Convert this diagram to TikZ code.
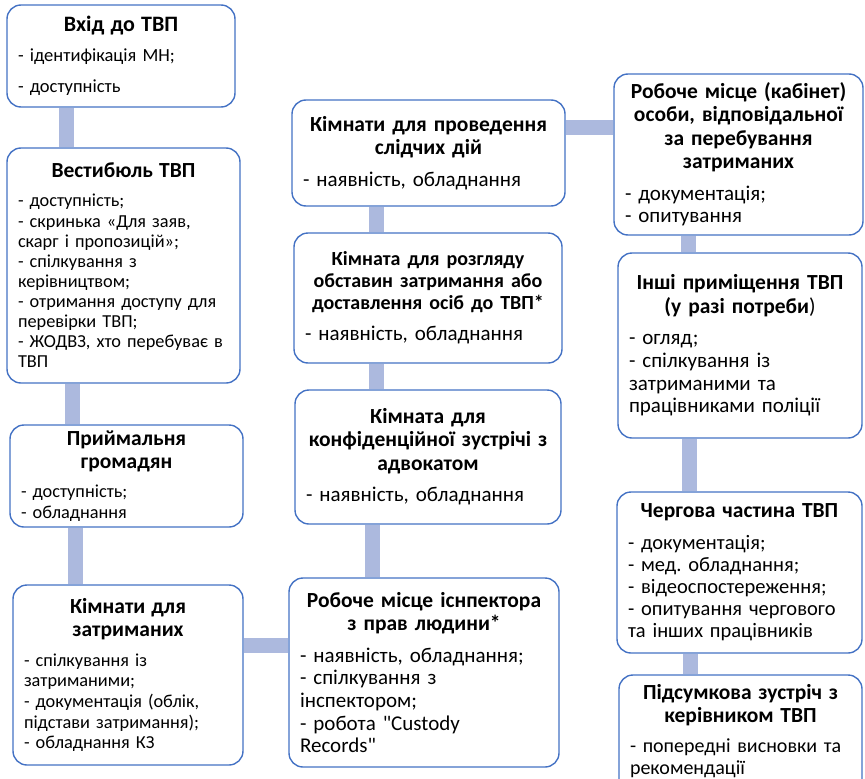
\documentclass[tikz,border=0pt]{standalone}
\usepackage{fontspec}
\setmainfont{Carlito}
\usepackage{tikz}
\usetikzlibrary{backgrounds}

\definecolor{boxblue}{RGB}{68,114,196}
\definecolor{linkblue}{RGB}{172,185,222}

\newcommand\bodysize[2]{\fontsize{#1}{#1}\selectfont\baselineskip=#2\baselineskip\relax}
\newcommand\roomtitle[2][21.5]{{\centering\bfseries\fontsize{#1}{#1}\selectfont\baselineskip=1.08\baselineskip\relax #2\par}\vspace{9pt}}

\tikzset{
	room/.style={draw=boxblue,line width=1.4pt,fill=white,rounded corners=14pt,
		inner xsep=11pt,inner ysep=4pt,align=left},
	link/.style={draw=linkblue,line width=15pt}
}

\begin{document}
\frenchspacing
\begin{tikzpicture}
	\useasboundingbox (0,0) rectangle (865pt,-779pt);

	\node [room,text width=206pt,minimum height=102pt,font=\bodysize{18.5}{1.1}] (entry)   at (121pt,-56pt)
		{\roomtitle[22]{Вхід до ТВП}- ідентифікація МН;\\[11pt]- доступність};
	\node [room,text width=211pt,minimum height=235pt,font=\bodysize{18.3}{1.1}] (lobby)   at (123.5pt,-265.5pt)
		{\roomtitle{Вестибюль ТВП}- доступність;\\- скринька «Для заяв,\\скарг і пропозицій»;\\- спілкування з\\керівництвом;\\- отримання доступу для\\перевірки ТВП;\\- ЖОДВЗ, хто перебуває в\\ТВП};
	\node [room,text width=211pt,minimum height=102pt,font=\bodysize{18.3}{1.13}] (recep)   at (126.5pt,-476pt)
		{\roomtitle{Приймальня\\громадян}- доступність;\\- обладнання};
	\node [room,text width=208pt,minimum height=180pt,font=\bodysize{18.3}{1.13}] (cells)   at (128pt,-675pt)
		{\roomtitle{Кімнати для\\затриманих}- спілкування із\\затриманими;\\- документація (облік,\\підстави затримання);\\- обладнання КЗ};

	\node [room,text width=251pt,minimum height=106pt,font=\bodysize{21}{1.08}] (invest)  at (428.5pt,-153pt)
		{\roomtitle{Кімнати для проведення\\слідчих дій}- наявність, обладнання};
	\node [room,text width=246pt,minimum height=130pt,font=\bodysize{21}{1.08}] (review)  at (428pt,-298pt)
		{\roomtitle[20]{Кімната для розгляду\\обставин затримання або\\доставлення осіб до ТВП*}- наявність, обладнання};
	\node [room,text width=244pt,minimum height=134pt,font=\bodysize{21}{1.08}] (lawyer)  at (428pt,-457pt)
		{\roomtitle{Кімната для\\конфіденційної зустрічі з\\адвокатом}- наявність, обладнання};
	\node [room,text width=248pt,minimum height=189pt,font=\bodysize{21}{1.08}] (inspect) at (424pt,-672.5pt)
		{\roomtitle{Робоче місце існпектора\\з прав людини*}- наявність, обладнання;\\- спілкування з\\інспектором;\\- робота \textquotedbl Custody\\Records\textquotedbl};

	\node [room,text width=227pt,minimum height=161pt,font=\bodysize{21}{1.08}] (officer) at (738.5pt,-154.5pt)
		{\roomtitle{Робоче місце (кабінет)\\особи, відповідальної\\за перебування\\затриманих}- документація;\\- опитування};
	\node [room,text width=222pt,minimum height=185pt,font=\bodysize{21}{1.08}] (other)   at (740pt,-345.5pt)
		{\roomtitle{Інші приміщення ТВП\\(у разі потреби\mdseries)}- огляд;\\- спілкування із\\затриманими та\\працівниками поліції};
	\node [room,text width=223pt,minimum height=161pt,font=\bodysize{20.5}{1.08}] (duty)    at (739.5pt,-572.5pt)
		{\roomtitle{Чергова частина ТВП}- документація;\\- мед. обладнання;\\- відеоспостереження;\\- опитування чергового\\та інших працівників};
	\node [room,text width=221pt,minimum height=120pt,font=\bodysize{20}{1.08}] (final)   at (740.5pt,-735pt)
		{\roomtitle{Підсумкова зустріч з\\керівником ТВП}- попередні висновки та\\рекомендації\par\vspace{-10pt}\null};

	\begin{scope}[on background layer]
		\draw [link] ([xshift=-55pt]entry.south)    -- ([xshift=-55pt]entry.south |- lobby.north);
		\draw [link] ([xshift=-51.5pt]lobby.south)  -- ([xshift=-51.5pt]lobby.south |- recep.north);
		\draw [link] ([xshift=-51.5pt]recep.south)  -- ([xshift=-51.5pt]recep.south |- cells.north);
		\draw [link] ([yshift=30pt]cells.east)      -- ([yshift=30pt]cells.east -| inspect.west);
		\draw [link] ([yshift=26pt]invest.east)     -- ([yshift=26pt]invest.east -| officer.west);
		\draw [link] ([xshift=-52.5pt]invest.south) -- ([xshift=-52.5pt]invest.south |- review.north);
		\draw [link] ([xshift=-52pt]review.south)   -- ([xshift=-52pt]review.south |- lawyer.north);
		\draw [link] ([xshift=-56pt]lawyer.south)   -- ([xshift=-56pt]lawyer.south |- inspect.north);
		\draw [link] ([xshift=-50.5pt]officer.south) -- ([xshift=-50.5pt]officer.south |- other.north);
		\draw [link] ([xshift=-51pt]other.south)    -- ([xshift=-51pt]other.south |- duty.north);
		\draw [link] ([xshift=-49.5pt]duty.south)   -- ([xshift=-49.5pt]duty.south |- final.north);
	\end{scope}
\end{tikzpicture}
\end{document}
